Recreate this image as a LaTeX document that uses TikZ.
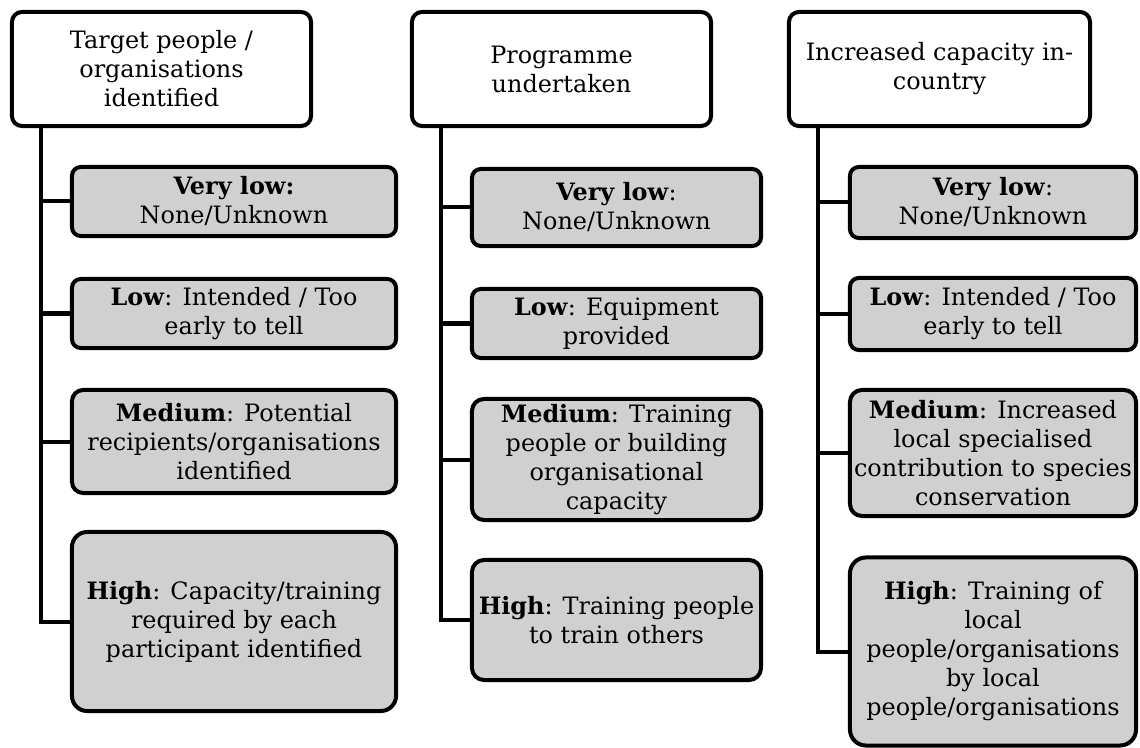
\documentclass[tikz,border=0pt]{standalone}
\usepackage{fontspec}
\setmainfont{DejaVu Serif}
\usetikzlibrary{positioning}
\definecolor{levelgray}{RGB}{208,208,208}
\tikzstyle{head_node} = [rectangle, rounded corners=0.25cm, minimum width=7.475cm, minimum height=2.85cm, align=center, draw=black, line width=0.1cm, fill=white, inner sep=0pt, font=\fontsize{17}{20.6}\selectfont]
\tikzstyle{level_node} = [rectangle, rounded corners=0.22cm, align=center, draw=black, line width=0.1cm, fill=levelgray, inner sep=0pt, font=\fontsize{17}{20.6}\selectfont]
\tikzstyle{link} = [line width=0.1cm]

\begin{document}
\begin{tikzpicture}[x=0.025cm, y=-0.025cm]
        \useasboundingbox (0,0) rectangle (1140,748);

        % first column
        \node(target) [head_node] at (161.5,69) {Target people /\\organisations\\identified};
        \node(target_vl) [level_node, minimum width=8.1cm, minimum height=1.725cm] at (234,201.5) {\textbf{Very low:}\\None/Unknown};
        \node(target_lo) [level_node, minimum width=8.1cm, minimum height=1.725cm] at (234,313.5) {\textbf{Low}: Intended / Too\\early to tell};
        \node(target_me) [level_node, minimum width=8.1cm, minimum height=2.575cm, rounded corners=0.28cm] at (234,441.5) {\textbf{Medium}: Potential\\recipients/organisations\\identified};
        \node(target_hi) [level_node, minimum width=8.1cm, minimum height=4.475cm, rounded corners=0.38cm] at (234,621.5) {\textbf{High}: Capacity/training\\required by each\\participant identified};
        \coordinate(target_trunk) at (41,128);

        % second column
        \node(prog) [head_node] at (561.5,69) {Programme\\undertaken};
        \node(prog_vl) [level_node, minimum width=7.225cm, minimum height=1.925cm] at (616.5,207.5) {\textbf{Very low}:\\None/Unknown};
        \node(prog_lo) [level_node, minimum width=7.225cm, minimum height=1.725cm] at (616.5,323.5) {\textbf{Low}: Equipment\\provided};
        \node(prog_me) [level_node, minimum width=7.225cm, minimum height=3.025cm, rounded corners=0.3cm] at (616.5,459.5) {\textbf{Medium}: Training\\people or building\\organisational\\capacity};
        \node(prog_hi) [level_node, minimum width=7.225cm, minimum height=3cm, rounded corners=0.3cm] at (616.5,620) {\textbf{High}: Training people\\to train others};
        \coordinate(prog_trunk) at (441,128);

        % third column
        \node(capac) [head_node, minimum width=7.525cm] at (939.5,69) {Increased capacity in-\\country};
        \node(capac_vl) [level_node, minimum width=7.15cm, minimum height=1.775cm] at (993,202.5) {\textbf{Very low}:\\None/Unknown};
        \node(capac_lo) [level_node, minimum width=7.15cm, minimum height=1.8cm] at (993,314) {\textbf{Low}: Intended / Too\\early to tell};
        \node(capac_me) [level_node, minimum width=7.15cm, minimum height=3.15cm, rounded corners=0.3cm] at (993,453) {\textbf{Medium}: Increased\\local specialised\\contribution to species\\conservation};
        \node(capac_hi) [level_node, minimum width=7.15cm, minimum height=4.7cm, rounded corners=0.4cm] at (993,651.5) {\textbf{High}: Training of\\local\\people/organisations\\by local\\people/organisations};
        \coordinate(capac_trunk) at (818,128);

        \draw[link] (target.south -| target_trunk) |- (target_hi.west);
        \draw[link] (target_trunk |- target_vl.west) -- (target_vl.west);
        \draw[link] (target_trunk |- target_lo.west) -- (target_lo.west);
        \draw[link] (target_trunk |- target_me.west) -- (target_me.west);

        \draw[link] (prog.south -| prog_trunk) |- (prog_hi.west);
        \draw[link] (prog_trunk |- prog_vl.west) -- (prog_vl.west);
        \draw[link] (prog_trunk |- prog_lo.west) -- (prog_lo.west);
        \draw[link] (prog_trunk |- prog_me.west) -- (prog_me.west);

        \draw[link] (capac.south -| capac_trunk) |- (capac_hi.west);
        \draw[link] (capac_trunk |- capac_vl.west) -- (capac_vl.west);
        \draw[link] (capac_trunk |- capac_lo.west) -- (capac_lo.west);
        \draw[link] (capac_trunk |- capac_me.west) -- (capac_me.west);
    \end{tikzpicture}
\end{document}
